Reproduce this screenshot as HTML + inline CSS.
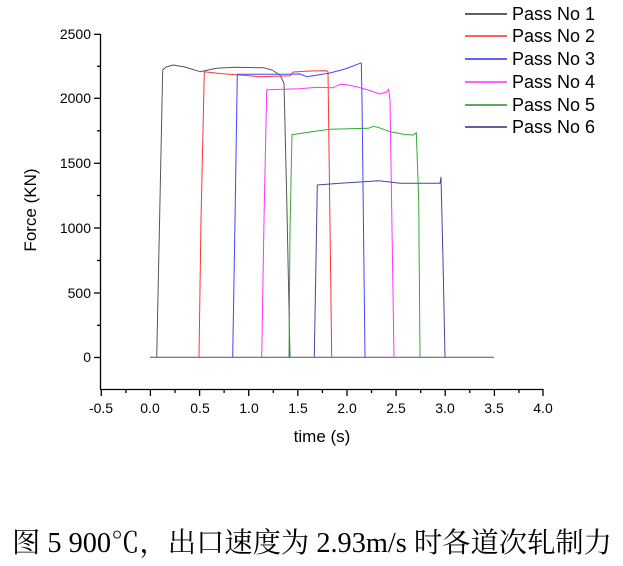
<!DOCTYPE html>
<html><head><meta charset="utf-8"><style>
body{margin:0;background:#fff;width:623px;height:561px;overflow:hidden}
</style></head><body>
<svg width="623" height="561" xmlns="http://www.w3.org/2000/svg" font-family="Liberation Sans, Arial, sans-serif">
<g stroke="#000" stroke-width="1.3" fill="none">
<line x1="100.5" y1="34" x2="100.5" y2="389"/>
<line x1="100" y1="389.5" x2="543" y2="389.5"/>
<line x1="94" y1="34.3" x2="100" y2="34.3"/><line x1="97" y1="66.3" x2="100" y2="66.3"/>
<line x1="94" y1="98.3" x2="100" y2="98.3"/><line x1="97" y1="130.8" x2="100" y2="130.8"/>
<line x1="94" y1="163.3" x2="100" y2="163.3"/><line x1="97" y1="195.5" x2="100" y2="195.5"/>
<line x1="94" y1="228" x2="100" y2="228"/><line x1="97" y1="260.5" x2="100" y2="260.5"/>
<line x1="94" y1="293" x2="100" y2="293"/><line x1="97" y1="325.3" x2="100" y2="325.3"/>
<line x1="94" y1="357.5" x2="100" y2="357.5"/>
<line x1="101.3" y1="389" x2="101.3" y2="396"/><line x1="125.9" y1="389" x2="125.9" y2="393"/>
<line x1="150.4" y1="389" x2="150.4" y2="396"/><line x1="175" y1="389" x2="175" y2="393"/>
<line x1="199.6" y1="389" x2="199.6" y2="396"/><line x1="224.1" y1="389" x2="224.1" y2="393"/>
<line x1="248.7" y1="389" x2="248.7" y2="396"/><line x1="273.3" y1="389" x2="273.3" y2="393"/>
<line x1="297.8" y1="389" x2="297.8" y2="396"/><line x1="322.4" y1="389" x2="322.4" y2="393"/>
<line x1="347" y1="389" x2="347" y2="396"/><line x1="371.5" y1="389" x2="371.5" y2="393"/>
<line x1="396.1" y1="389" x2="396.1" y2="396"/><line x1="420.7" y1="389" x2="420.7" y2="393"/>
<line x1="445.2" y1="389" x2="445.2" y2="396"/><line x1="469.8" y1="389" x2="469.8" y2="393"/>
<line x1="494.4" y1="389" x2="494.4" y2="396"/><line x1="518.9" y1="389" x2="518.9" y2="393"/>
<line x1="543" y1="389" x2="543" y2="396"/>
</g>
<g font-size="14" fill="#000" text-anchor="end">
<text x="91" y="39">2500</text><text x="91" y="103">2000</text><text x="91" y="168">1500</text>
<text x="91" y="233">1000</text><text x="91" y="298">500</text><text x="91" y="362">0</text>
</g>
<g font-size="14" fill="#000" text-anchor="middle">
<text x="101" y="413">-0.5</text><text x="150" y="413">0.0</text><text x="200" y="413">0.5</text>
<text x="249" y="413">1.0</text><text x="298" y="413">1.5</text><text x="347" y="413">2.0</text>
<text x="396" y="413">2.5</text><text x="445" y="413">3.0</text><text x="494" y="413">3.5</text>
<text x="543" y="413">4.0</text>
</g>
<text x="322" y="442" font-size="17" text-anchor="middle">time (s)</text>
<text transform="translate(36,210) rotate(-90)" font-size="17" text-anchor="middle">Force (KN)</text>
<g fill="none" stroke-width="1" stroke-linejoin="round">
<line x1="150" y1="357.3" x2="494" y2="357.3" stroke="#555"/>
<polyline stroke="#555" points="156.7,357 160,200 162.7,70 166,67 173.3,65 185,67 200,71.7 208,70 216.7,68.3 233.3,67.3 263.3,67.7 272,70 280,75 284,83.3 286.7,197 290,357"/>
<polyline stroke="#f33" points="199,357 201,220 204.3,71.7 220,73.5 240,75 260,76.7 290,75.7 293.3,72 310,71 326.7,70.7 328,72 331.7,357"/>
<polyline stroke="#44f" points="232.7,357 235,220 237.3,74.3 280,74.3 300,74 306.7,76.7 318,75 330,73 345,69 360,63.3 361.3,63 362,100 365,357"/>
<polyline stroke="#f3f" points="261.7,357 264,220 266.7,89.7 300,88.7 316.7,87.3 333.3,87.7 340,84.3 348,85 356.7,86.7 368,90 380,94 386.7,92 388.7,89 390,100 394,357"/>
<polyline stroke="#3a3" points="289,357 290,230 292,134.7 310,132 330,129.3 368.3,128.3 373.3,126.3 380,128 390,131.7 405,134.5 413.3,135 416.3,132.7 418.7,200 420,357"/>
<polyline stroke="#44a" points="314.3,357 316,260 317.3,185 340,183.3 360,182 378.3,180.7 390,182 400,183.3 440,183.3 441,177.3 443,260 445,357"/>
</g>
<g stroke-width="1.3">
<line x1="465" y1="14" x2="507" y2="14" stroke="#000"/>
<line x1="465" y1="36" x2="507" y2="36" stroke="#f00"/>
<line x1="465" y1="59" x2="507" y2="59" stroke="#00f"/>
<line x1="465" y1="82" x2="507" y2="82" stroke="#f0f"/>
<line x1="465" y1="105" x2="507" y2="105" stroke="#070"/>
<line x1="465" y1="127" x2="507" y2="127" stroke="#006"/>
</g>
<g font-size="18" fill="#000">
<text x="512" y="20">Pass No 1</text><text x="512" y="42">Pass No 2</text><text x="512" y="65">Pass No 3</text>
<text x="512" y="88">Pass No 4</text><text x="512" y="111">Pass No 5</text><text x="512" y="133">Pass No 6</text>
</g>
<text x="12" y="552" font-size="28" font-family="Liberation Serif, Noto Serif CJK SC, serif" textLength="600" lengthAdjust="spacingAndGlyphs">图 5 900℃，出口速度为 2.93m/s 时各道次轧制力</text>
</svg>
</body></html>
